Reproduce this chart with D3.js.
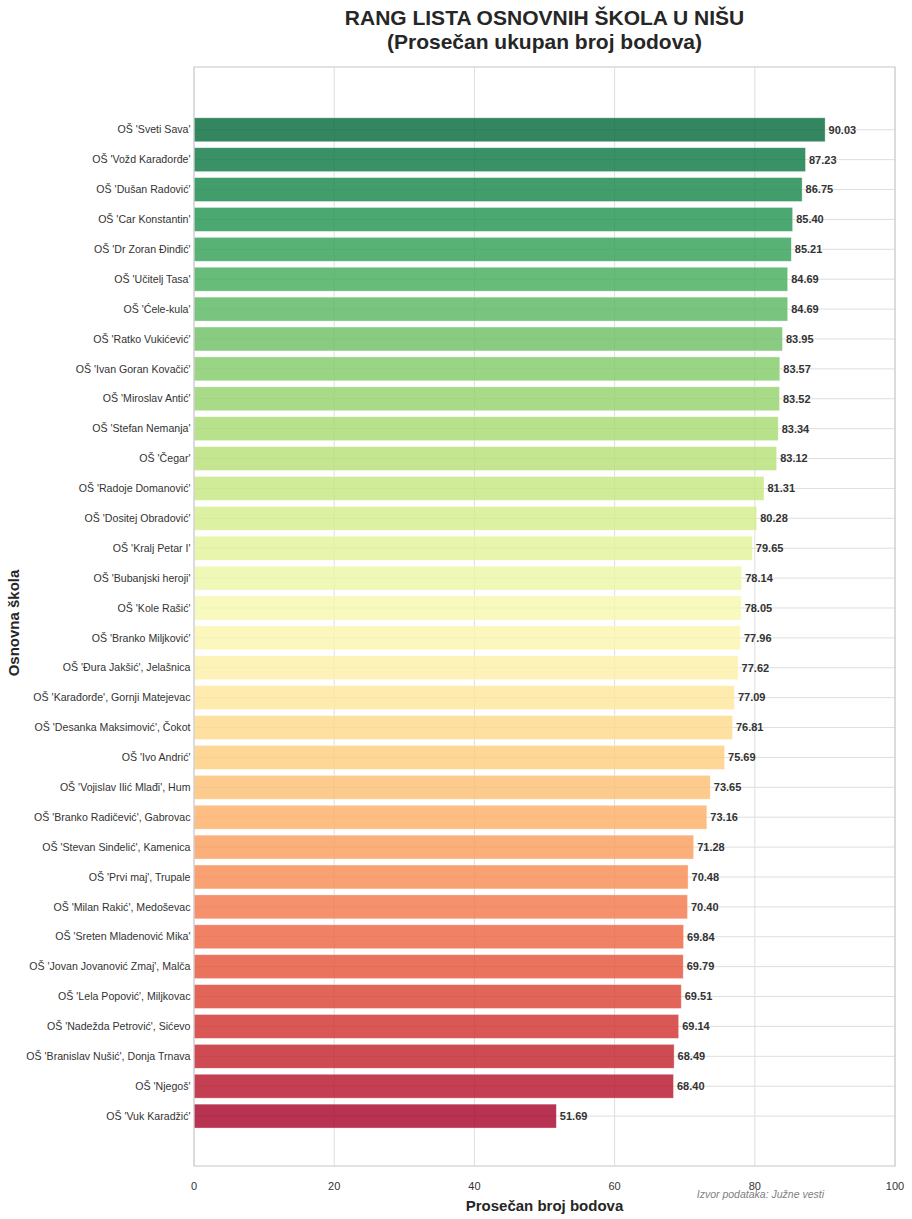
<!DOCTYPE html>
<html>
<head>
<meta charset="utf-8">
<script src="https://cdn.jsdelivr.net/npm/d3@7"></script>
<style>
  body { margin: 0; background: #fff; }
  svg { font-family: "Liberation Sans", Arial, sans-serif; }
</style>
</head>
<body>
<div id="vis-holder"></div>
<script>
// Podaci - redosled od najboljeg ka najslabijem
const schools = [
    "OŠ 'Sveti Sava'", "OŠ 'Vožd Karađorđe'", "OŠ 'Dušan Radović'", "OŠ 'Car Konstantin'",
    "OŠ 'Dr Zoran Đinđić'", "OŠ 'Učitelj Tasa'", "OŠ 'Ćele-kula'", "OŠ 'Ratko Vukićević'",
    "OŠ 'Ivan Goran Kovačić'", "OŠ 'Miroslav Antić'", "OŠ 'Stefan Nemanja'", "OŠ 'Čegar'",
    "OŠ 'Radoje Domanović'", "OŠ 'Dositej Obradović'", "OŠ 'Kralj Petar I'", "OŠ 'Bubanjski heroji'",
    "OŠ 'Kole Rašić'", "OŠ 'Branko Miljković'", "OŠ 'Đura Jakšić', Jelašnica",
    "OŠ 'Karađorđe', Gornji Matejevac", "OŠ 'Desanka Maksimović', Čokot", "OŠ 'Ivo Andrić'",
    "OŠ 'Vojislav Ilić Mlađi', Hum", "OŠ 'Branko Radičević', Gabrovac", "OŠ 'Stevan Sinđelić', Kamenica",
    "OŠ 'Prvi maj', Trupale", "OŠ 'Milan Rakić', Medoševac", "OŠ 'Sreten Mladenović Mika'",
    "OŠ 'Jovan Jovanović Zmaj', Malča", "OŠ 'Lela Popović', Miljkovac", "OŠ 'Nadežda Petrović', Sićevo",
    "OŠ 'Branislav Nušić', Donja Trnava", "OŠ 'Njegoš'", "OŠ 'Vuk Karadžić'"
];
const scores = [
    90.03, 87.23, 86.75, 85.40, 85.21, 84.69, 84.69, 83.95, 83.57, 83.52, 83.34, 83.12,
    81.31, 80.28, 79.65, 78.14, 78.05, 77.96, 77.62, 77.09, 76.81, 75.69, 73.65, 73.16,
    71.28, 70.48, 70.40, 69.84, 69.79, 69.51, 69.14, 68.49, 68.40, 51.69
];
const xTicks = [0, 20, 40, 60, 80, 100];

const width = 912, height = 1219;
const margin = { top: 67, right: 17, bottom: 53, left: 194 };

const svg = d3.select("#vis-holder")
    .append("svg")
    .attr("width", width)
    .attr("height", height);

const x = d3.scaleLinear()
    .domain([0, 100])
    .range([margin.left, width - margin.right]);

// pozicije traka po indeksu (matplotlib barh stil)
const y = d3.scaleLinear()
    .domain([-2.1, schools.length - 1 + 1.67])
    .range([margin.top, height - margin.bottom]);

const step = y(1) - y(0);
const barH = step * 0.8;

const color = i => d3.interpolateRdYlGn(1 - i / (schools.length - 1));

// grid
svg.append("g")
    .selectAll("line")
    .data(xTicks)
    .enter().append("line")
    .attr("x1", d => x(d)).attr("x2", d => x(d))
    .attr("y1", margin.top).attr("y2", height - margin.bottom)
    .attr("stroke", "#dedede")
    .attr("stroke-width", 1);

svg.append("g")
    .selectAll("line")
    .data(schools)
    .enter().append("line")
    .attr("x1", margin.left).attr("x2", width - margin.right)
    .attr("y1", (d, i) => y(i)).attr("y2", (d, i) => y(i))
    .attr("stroke", "#dedede")
    .attr("stroke-width", 1);

// trake
svg.append("g")
    .selectAll("rect")
    .data(scores)
    .enter().append("rect")
    .attr("x", x(0))
    .attr("y", (d, i) => y(i) - barH / 2)
    .attr("width", d => x(d) - x(0))
    .attr("height", barH)
    .attr("fill", (d, i) => color(i))
    .attr("fill-opacity", 0.8)
    .attr("stroke", "#fff")
    .attr("stroke-opacity", 0.5)
    .attr("stroke-width", 0.7);

// vrednosti
svg.append("g")
    .selectAll("text")
    .data(scores)
    .enter().append("text")
    .attr("x", d => x(d) + 3.5)
    .attr("y", (d, i) => y(i))
    .attr("dy", "0.35em")
    .attr("font-size", 11)
    .attr("font-weight", "bold")
    .attr("fill", "#333")
    .text(d => d.toFixed(2));

// okvir
svg.append("rect")
    .attr("x", margin.left)
    .attr("y", margin.top)
    .attr("width", width - margin.left - margin.right)
    .attr("height", height - margin.top - margin.bottom)
    .attr("fill", "none")
    .attr("stroke", "#cfcfcf")
    .attr("stroke-width", 1.2);

// y oznake
svg.append("g")
    .selectAll("text")
    .data(schools)
    .enter().append("text")
    .attr("x", margin.left - 3.5)
    .attr("y", (d, i) => y(i))
    .attr("dy", "0.35em")
    .attr("text-anchor", "end")
    .attr("font-size", 10.6)
    .attr("fill", "#333")
    .text(d => d);

// x oznake
svg.append("g")
    .selectAll("text")
    .data(xTicks)
    .enter().append("text")
    .attr("x", d => x(d))
    .attr("y", height - margin.bottom + 24)
    .attr("text-anchor", "middle")
    .attr("font-size", 11)
    .attr("fill", "#333")
    .text(d => d);

const cx = (x(0) + x(100)) / 2;

svg.append("text")
    .attr("x", cx)
    .attr("y", height - 8)
    .attr("text-anchor", "middle")
    .attr("font-size", 15)
    .attr("font-weight", "bold")
    .attr("fill", "#262626")
    .text("Prosečan broj bodova");

svg.append("text")
    .attr("transform", "translate(19,623) rotate(-90)")
    .attr("text-anchor", "middle")
    .attr("font-size", 15)
    .attr("font-weight", "bold")
    .attr("fill", "#262626")
    .text("Osnovna škola");

// naslov
svg.append("text")
    .attr("x", cx)
    .attr("y", 25)
    .attr("text-anchor", "middle")
    .attr("font-size", 21)
    .attr("font-weight", "bold")
    .attr("fill", "#262626")
    .text("RANG LISTA OSNOVNIH ŠKOLA U NIŠU");

svg.append("text")
    .attr("x", cx)
    .attr("y", 49)
    .attr("text-anchor", "middle")
    .attr("font-size", 21)
    .attr("font-weight", "bold")
    .attr("fill", "#262626")
    .text("(Prosečan ukupan broj bodova)");

// izvor
svg.append("text")
    .attr("x", 824)
    .attr("y", 1198)
    .attr("text-anchor", "end")
    .attr("font-size", 10.5)
    .attr("font-style", "italic")
    .attr("fill", "#808080")
    .text("Izvor podataka: Južne vesti");
</script>
</body>
</html>
